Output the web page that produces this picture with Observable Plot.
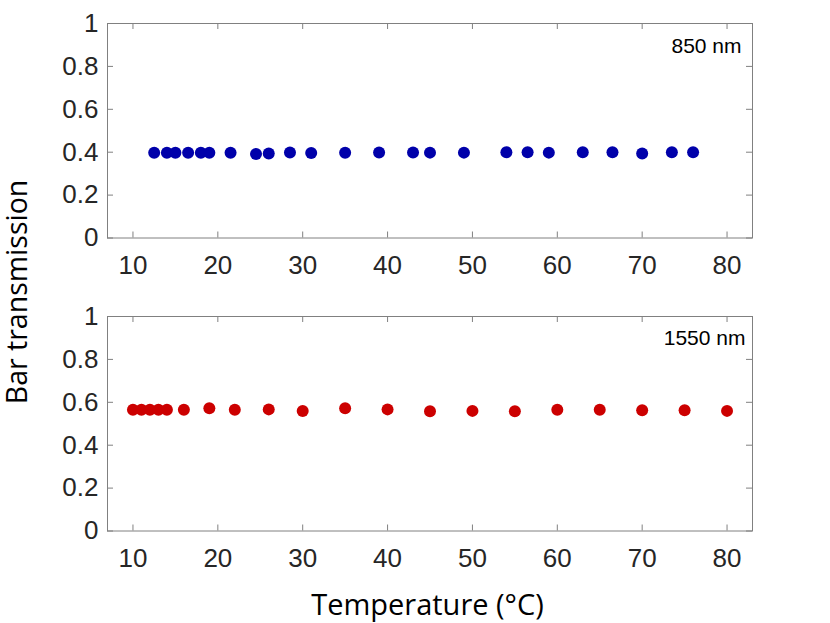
<!DOCTYPE html>
<html><head><meta charset="utf-8">
<script src="https://cdn.jsdelivr.net/npm/d3@7"></script>
<script src="https://cdn.jsdelivr.net/npm/@observablehq/plot@0.6"></script>
<style>
body{margin:0;background:#fff}
#wrap{position:relative;width:830px;height:623px;overflow:hidden;background:#fff}
.p{position:absolute;left:0}
#titles{position:absolute;left:0;top:0;pointer-events:none}
</style></head><body><div id="wrap"></div>
<script>
const temps850 = [12.5,14,15,16.5,18,19,21.5,24.5,26,28.5,31,35,39,43,45,49,54,56.5,59,63,66.5,70,73.5,76];
const trans850 = [0.397,0.397,0.397,0.397,0.397,0.397,0.397,0.392,0.394,0.399,0.396,0.397,0.399,0.399,0.398,0.398,0.400,0.400,0.398,0.400,0.400,0.394,0.400,0.400];
const temps1550 = [10,11,12,13,14,16,19,22,26,30,35,40,45,50,55,60,65,70,75,80];
const trans1550 = [0.565,0.565,0.565,0.565,0.565,0.565,0.572,0.565,0.567,0.559,0.572,0.567,0.558,0.560,0.558,0.565,0.565,0.563,0.563,0.560];
const xTicks = [10,20,30,40,50,60,70,80];
const yTicks = [0,0.2,0.4,0.6,0.8,1];
const panelLabels = ["850 nm","1550 nm"];
const xTitle = "Temperature (°C)";
const yTitle = "Bar transmission";

const wrap = document.getElementById("wrap");
const axisCol = "#808080";
const W = 830, H = 300, mL = 107, mR = 78, mT = 23, mB = 62.5;
const innerW = W - mL - mR, innerH = H - mT - mB, tk = 6;

function panel(temps, vals, color, label, ldx, ldy, top) {
  const data = temps.map((t, i) => ({t, v: vals[i]}));
  const svg = Plot.plot({
    width: W, height: H,
    marginLeft: mL, marginRight: mR, marginTop: mT, marginBottom: mB,
    x: {domain: [7, 83]},
    y: {domain: [0, 1]},
    style: {fontFamily: "'Liberation Sans', Arial, sans-serif", fontSize: "26px", color: "#262626", background: "transparent", overflow: "visible"},
    marks: [
      Plot.frame({stroke: axisCol}),
      Plot.tickX(xTicks, {x: d => d, insetTop: innerH - tk, stroke: axisCol}),
      Plot.tickX(xTicks, {x: d => d, insetBottom: innerH - tk, stroke: axisCol}),
      Plot.tickY(yTicks, {y: d => d, insetRight: innerW - tk, stroke: axisCol}),
      Plot.tickY(yTicks, {y: d => d, insetLeft: innerW - tk, stroke: axisCol}),
      Plot.axisX(xTicks, {anchor: "bottom", tickSize: 0, tickPadding: 18, fontSize: 26, fill: "#262626", label: null}),
      Plot.axisY(yTicks, {anchor: "left", tickSize: 0, tickPadding: 9, fontSize: 26, fill: "#262626", label: null, tickFormat: d => String(d)}),
      Plot.dot(data, {x: "t", y: "v", r: 6, fill: color, stroke: "none"}),
      Plot.text([label], {frameAnchor: "top-right", textAnchor: "end", lineAnchor: "middle", dx: ldx, dy: ldy, fontSize: 21, fill: "#000"})
    ]
  });
  svg.classList.add("p");
  svg.style.top = top + "px";
  wrap.appendChild(svg);
}

panel(temps850, trans850, "#0000AA", panelLabels[0], -11, 23, 0);
panel(temps1550, trans1550, "#CC0000", panelLabels[1], -7, 22, 293);

const titles = d3.select(wrap).append("svg")
  .attr("id", "titles").attr("width", 830).attr("height", 623)
  .style("font-family", "'Open Sans', sans-serif").style("fill", "#000");
titles.append("text")
  .attr("x", 427.5).attr("y", 615)
  .attr("text-anchor", "middle").attr("font-size", 29)
  .text(xTitle);
titles.append("text")
  .attr("transform", "translate(27,292) rotate(-90)")
  .attr("text-anchor", "middle").attr("font-size", 28.5)
  .text(yTitle);
</script>
</body></html>
